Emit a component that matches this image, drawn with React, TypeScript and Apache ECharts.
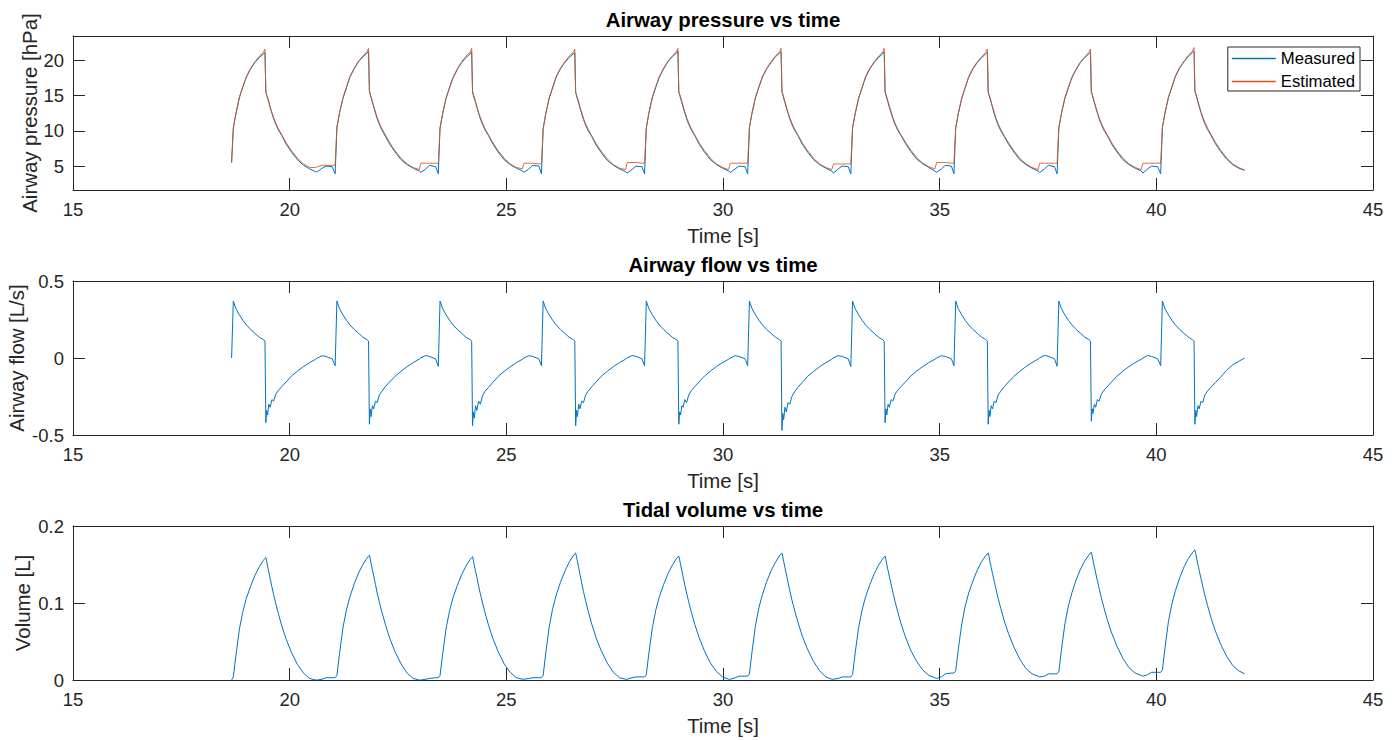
import { useEffect, useRef } from "react";
import * as echarts from "echarts";

// ---- data (one line per breathing cycle) ----
const time = [
  18.66, 18.70, 18.76, 18.84, 18.92, 19.00, 19.10, 19.20, 19.30, 19.39, 19.43, 19.45, 19.47, 19.49, 19.52, 19.55, 19.59, 19.63, 19.68, 19.74, 19.82, 19.92, 20.04, 20.18, 20.32, 20.46, 20.60, 20.64, 20.75, 20.84, 20.98,
  21.05, 21.09, 21.15, 21.23, 21.31, 21.39, 21.49, 21.59, 21.69, 21.78, 21.82, 21.84, 21.86, 21.88, 21.91, 21.94, 21.98, 22.02, 22.07, 22.13, 22.21, 22.31, 22.43, 22.57, 22.71, 22.85, 22.99, 23.03, 23.14, 23.23, 23.37,
  23.43, 23.47, 23.53, 23.61, 23.69, 23.77, 23.87, 23.97, 24.07, 24.16, 24.20, 24.22, 24.24, 24.26, 24.29, 24.32, 24.36, 24.40, 24.45, 24.51, 24.59, 24.69, 24.81, 24.95, 25.09, 25.23, 25.37, 25.41, 25.52, 25.61, 25.75,
  25.81, 25.85, 25.91, 25.99, 26.07, 26.15, 26.25, 26.35, 26.45, 26.54, 26.58, 26.60, 26.62, 26.64, 26.67, 26.70, 26.74, 26.78, 26.83, 26.89, 26.97, 27.07, 27.19, 27.33, 27.47, 27.61, 27.75, 27.79, 27.90, 27.99, 28.13,
  28.19, 28.23, 28.29, 28.37, 28.45, 28.53, 28.63, 28.73, 28.83, 28.92, 28.96, 28.98, 29.00, 29.02, 29.05, 29.08, 29.12, 29.16, 29.21, 29.27, 29.35, 29.45, 29.57, 29.71, 29.85, 29.99, 30.13, 30.17, 30.28, 30.37, 30.51,
  30.57, 30.61, 30.67, 30.75, 30.83, 30.91, 31.01, 31.11, 31.21, 31.30, 31.34, 31.36, 31.38, 31.40, 31.43, 31.46, 31.50, 31.54, 31.59, 31.65, 31.73, 31.83, 31.95, 32.09, 32.23, 32.37, 32.51, 32.55, 32.66, 32.75, 32.89,
  32.95, 32.99, 33.05, 33.13, 33.21, 33.29, 33.39, 33.49, 33.59, 33.68, 33.72, 33.74, 33.76, 33.78, 33.81, 33.84, 33.88, 33.92, 33.97, 34.03, 34.11, 34.21, 34.33, 34.47, 34.61, 34.75, 34.89, 34.93, 35.04, 35.13, 35.27,
  35.33, 35.37, 35.43, 35.51, 35.59, 35.67, 35.77, 35.87, 35.97, 36.06, 36.10, 36.12, 36.14, 36.16, 36.19, 36.22, 36.26, 36.30, 36.35, 36.41, 36.49, 36.59, 36.71, 36.85, 36.99, 37.13, 37.27, 37.31, 37.42, 37.51, 37.65,
  37.71, 37.75, 37.81, 37.89, 37.97, 38.05, 38.15, 38.25, 38.35, 38.44, 38.48, 38.50, 38.52, 38.54, 38.57, 38.60, 38.64, 38.68, 38.73, 38.79, 38.87, 38.97, 39.09, 39.23, 39.37, 39.51, 39.65, 39.69, 39.80, 39.89, 40.03,
  40.10, 40.14, 40.20, 40.28, 40.36, 40.44, 40.54, 40.64, 40.74, 40.83, 40.87, 40.89, 40.91, 40.93, 40.96, 40.99, 41.03, 41.07, 41.12, 41.18, 41.26, 41.36, 41.48, 41.62, 41.76, 41.90, 42.04,
];

const pressureMeasured = [
  5.5, 10.4, 12.4, 14.7, 16.2, 17.6, 18.8, 19.7, 20.4, 20.9, 21.1, 15.5, 15.0, 14.6, 14.0, 13.3, 12.5, 11.7, 10.9, 10.1, 9.3, 8.1, 7.0, 5.9, 5.1, 4.6, 4.2, 4.2, 4.7, 5.0, 4.9,
  3.9, 10.5, 12.5, 14.6, 16.1, 17.6, 18.8, 19.8, 20.5, 21.0, 21.3, 15.6, 15.1, 14.7, 14.0, 13.4, 12.5, 11.7, 10.9, 10.1, 9.2, 8.1, 7.0, 5.9, 5.2, 4.7, 4.3, 4.1, 4.6, 5.1, 4.9,
  3.9, 10.4, 12.4, 14.6, 16.1, 17.5, 18.7, 19.7, 20.4, 20.9, 21.2, 15.5, 15.0, 14.6, 14.0, 13.3, 12.5, 11.7, 10.9, 10.1, 9.3, 8.1, 7.0, 5.9, 5.2, 4.7, 4.3, 4.1, 4.6, 5.1, 5.0,
  3.9, 10.3, 12.4, 14.6, 16.1, 17.6, 18.8, 19.7, 20.4, 20.9, 21.1, 15.4, 15.0, 14.5, 13.9, 13.2, 12.4, 11.6, 10.8, 10.0, 9.2, 8.0, 6.9, 5.8, 5.1, 4.6, 4.2, 4.0, 4.5, 5.0, 4.9,
  3.9, 10.4, 12.5, 14.7, 16.2, 17.6, 18.8, 19.8, 20.5, 21.0, 21.3, 15.5, 15.1, 14.6, 14.0, 13.3, 12.5, 11.7, 10.9, 10.1, 9.3, 8.1, 7.0, 5.9, 5.2, 4.7, 4.3, 4.1, 4.6, 5.0, 4.9,
  3.9, 10.5, 12.5, 14.7, 16.2, 17.6, 18.8, 19.7, 20.5, 21.0, 21.2, 15.5, 15.1, 14.6, 14.0, 13.3, 12.5, 11.7, 10.9, 10.1, 9.3, 8.1, 7.0, 5.9, 5.2, 4.7, 4.3, 4.0, 4.6, 5.0, 4.9,
  3.9, 10.4, 12.4, 14.6, 16.1, 17.6, 18.8, 19.7, 20.4, 20.9, 21.2, 15.5, 15.1, 14.6, 14.0, 13.3, 12.5, 11.7, 10.9, 10.1, 9.3, 8.2, 7.1, 6.0, 5.3, 4.8, 4.3, 4.1, 4.6, 5.1, 5.0,
  3.9, 10.4, 12.4, 14.6, 16.1, 17.6, 18.8, 19.7, 20.4, 20.9, 21.1, 15.5, 15.0, 14.6, 14.0, 13.3, 12.4, 11.6, 10.8, 10.0, 9.2, 8.1, 7.0, 5.9, 5.2, 4.7, 4.3, 4.1, 4.6, 5.1, 4.9,
  3.9, 10.4, 12.4, 14.6, 16.1, 17.5, 18.7, 19.7, 20.4, 20.9, 21.1, 15.5, 15.1, 14.6, 14.0, 13.3, 12.5, 11.7, 10.9, 10.1, 9.3, 8.1, 7.0, 5.9, 5.2, 4.7, 4.3, 4.0, 4.6, 5.0, 4.9,
  3.9, 10.5, 12.5, 14.7, 16.2, 17.7, 18.9, 19.8, 20.6, 21.1, 21.3, 15.6, 15.2, 14.7, 14.1, 13.4, 12.6, 11.8, 11.0, 10.2, 9.4, 8.2, 7.1, 6.0, 5.2, 4.7, 4.4,
];

const pressureEstimated = [
  5.5, 10.4, 12.5, 14.8, 16.3, 17.7, 18.9, 19.8, 20.6, 21.1, 21.6, 15.6, 15.1, 14.8, 14.1, 13.4, 12.6, 11.9, 11.1, 10.3, 9.4, 8.3, 7.2, 6.1, 5.3, 4.8, 4.8, 4.9, 5.1, 5.1, 5.1,
  5.1, 10.5, 12.6, 14.7, 16.2, 17.7, 18.9, 19.9, 20.6, 21.2, 21.7, 15.7, 15.2, 14.8, 14.2, 13.5, 12.7, 11.9, 11.1, 10.3, 9.4, 8.3, 7.2, 6.1, 5.3, 4.8, 4.5, 5.4, 5.4, 5.4, 5.4,
  5.4, 10.4, 12.5, 14.7, 16.2, 17.6, 18.8, 19.8, 20.6, 21.1, 21.7, 15.6, 15.2, 14.8, 14.1, 13.5, 12.6, 11.9, 11.1, 10.3, 9.4, 8.3, 7.2, 6.1, 5.3, 4.8, 4.6, 5.4, 5.4, 5.4, 5.3,
  5.3, 10.3, 12.5, 14.7, 16.2, 17.7, 18.9, 19.8, 20.6, 21.1, 21.6, 15.5, 15.1, 14.7, 14.1, 13.4, 12.6, 11.8, 11.0, 10.2, 9.3, 8.2, 7.1, 6.0, 5.2, 4.7, 4.5, 5.5, 5.5, 5.5, 5.4,
  5.4, 10.4, 12.6, 14.8, 16.3, 17.7, 18.9, 19.9, 20.6, 21.2, 21.7, 15.6, 15.2, 14.8, 14.2, 13.5, 12.7, 11.9, 11.1, 10.3, 9.4, 8.3, 7.2, 6.1, 5.3, 4.8, 4.5, 5.4, 5.4, 5.4, 5.4,
  5.4, 10.5, 12.6, 14.8, 16.3, 17.7, 18.9, 19.8, 20.6, 21.2, 21.7, 15.6, 15.2, 14.8, 14.1, 13.5, 12.6, 11.9, 11.1, 10.3, 9.4, 8.3, 7.2, 6.1, 5.3, 4.8, 4.5, 5.3, 5.3, 5.3, 5.3,
  5.3, 10.4, 12.5, 14.7, 16.2, 17.7, 18.9, 19.8, 20.6, 21.1, 21.7, 15.6, 15.2, 14.8, 14.1, 13.5, 12.7, 11.9, 11.1, 10.3, 9.4, 8.4, 7.3, 6.2, 5.4, 4.9, 4.6, 5.5, 5.5, 5.5, 5.4,
  5.4, 10.4, 12.5, 14.7, 16.2, 17.7, 18.9, 19.8, 20.5, 21.1, 21.6, 15.6, 15.1, 14.8, 14.1, 13.4, 12.6, 11.8, 11.0, 10.2, 9.3, 8.3, 7.2, 6.1, 5.3, 4.8, 4.5, 5.4, 5.4, 5.4, 5.4,
  5.4, 10.4, 12.5, 14.7, 16.2, 17.6, 18.8, 19.8, 20.5, 21.1, 21.6, 15.6, 15.2, 14.8, 14.1, 13.5, 12.6, 11.9, 11.1, 10.3, 9.4, 8.3, 7.2, 6.1, 5.3, 4.8, 4.5, 5.4, 5.4, 5.4, 5.4,
  5.4, 10.5, 12.6, 14.8, 16.3, 17.8, 19.0, 19.9, 20.7, 21.3, 21.8, 15.7, 15.3, 14.9, 14.2, 13.6, 12.7, 12.0, 11.2, 10.4, 9.5, 8.4, 7.3, 6.2, 5.3, 4.8, 4.4,
];

const airwayFlow = [
  0.0, 0.37, 0.32, 0.28, 0.245, 0.215, 0.185, 0.16, 0.135, 0.12, 0.11, -0.42, -0.34, -0.37, -0.30, -0.32, -0.27, -0.28, -0.235, -0.21, -0.185, -0.155, -0.118, -0.085, -0.055, -0.03, -0.008, 0.0, 0.015, 0.01, -0.005,
  -0.05, 0.37, 0.32, 0.28, 0.245, 0.215, 0.185, 0.16, 0.135, 0.12, 0.11, -0.43, -0.33, -0.38, -0.31, -0.33, -0.28, -0.29, -0.24, -0.215, -0.185, -0.155, -0.12, -0.086, -0.056, -0.03, -0.007, 0.002, 0.016, 0.01, -0.006,
  -0.055, 0.37, 0.32, 0.28, 0.245, 0.215, 0.185, 0.16, 0.135, 0.12, 0.11, -0.44, -0.35, -0.39, -0.31, -0.34, -0.28, -0.30, -0.245, -0.215, -0.19, -0.158, -0.12, -0.087, -0.057, -0.031, -0.008, 0.001, 0.015, 0.01, -0.005,
  -0.05, 0.37, 0.32, 0.28, 0.245, 0.215, 0.185, 0.16, 0.135, 0.12, 0.11, -0.44, -0.34, -0.38, -0.30, -0.33, -0.28, -0.29, -0.24, -0.215, -0.187, -0.156, -0.119, -0.086, -0.056, -0.03, -0.008, 0.001, 0.016, 0.011, -0.005,
  -0.05, 0.37, 0.32, 0.28, 0.245, 0.215, 0.185, 0.16, 0.135, 0.12, 0.11, -0.43, -0.35, -0.37, -0.31, -0.32, -0.27, -0.29, -0.24, -0.21, -0.185, -0.155, -0.118, -0.085, -0.055, -0.03, -0.008, 0.0, 0.015, 0.01, -0.005,
  -0.05, 0.37, 0.32, 0.28, 0.245, 0.215, 0.185, 0.16, 0.135, 0.12, 0.11, -0.47, -0.36, -0.40, -0.32, -0.35, -0.29, -0.30, -0.25, -0.22, -0.19, -0.158, -0.12, -0.087, -0.057, -0.031, -0.008, 0.001, 0.016, 0.01, -0.006,
  -0.055, 0.37, 0.32, 0.28, 0.245, 0.215, 0.185, 0.16, 0.135, 0.12, 0.11, -0.42, -0.33, -0.37, -0.30, -0.32, -0.27, -0.28, -0.235, -0.21, -0.185, -0.155, -0.118, -0.085, -0.055, -0.03, -0.008, 0.0, 0.015, 0.01, -0.005,
  -0.05, 0.37, 0.32, 0.28, 0.245, 0.215, 0.185, 0.16, 0.135, 0.12, 0.11, -0.43, -0.34, -0.38, -0.31, -0.33, -0.28, -0.29, -0.24, -0.215, -0.187, -0.156, -0.12, -0.086, -0.056, -0.03, -0.007, 0.002, 0.017, 0.011, -0.005,
  -0.053, 0.37, 0.32, 0.28, 0.245, 0.215, 0.185, 0.16, 0.135, 0.12, 0.11, -0.41, -0.33, -0.36, -0.30, -0.32, -0.27, -0.28, -0.235, -0.21, -0.185, -0.155, -0.118, -0.085, -0.055, -0.03, -0.008, 0.0, 0.016, 0.01, -0.005,
  -0.05, 0.37, 0.32, 0.28, 0.245, 0.215, 0.185, 0.16, 0.135, 0.12, 0.11, -0.43, -0.34, -0.38, -0.31, -0.33, -0.28, -0.29, -0.24, -0.215, -0.19, -0.16, -0.125, -0.08, -0.045, -0.022, 0.0,
];

const tidalVolume = [
  0.000, 0.004, 0.032, 0.066, 0.089, 0.106, 0.122, 0.136, 0.147, 0.155, 0.158, 0.159, 0.154, 0.148, 0.140, 0.132, 0.121, 0.111, 0.099, 0.086, 0.070, 0.053, 0.036, 0.020, 0.009, 0.002, 0.000, 0.000, 0.001, 0.003, 0.003,
  0.003, 0.006, 0.034, 0.068, 0.091, 0.108, 0.125, 0.139, 0.150, 0.158, 0.161, 0.162, 0.157, 0.151, 0.143, 0.135, 0.124, 0.113, 0.101, 0.088, 0.072, 0.054, 0.037, 0.021, 0.009, 0.002, 0.000, 0.000, 0.001, 0.002, 0.003,
  0.003, 0.006, 0.033, 0.067, 0.090, 0.107, 0.123, 0.137, 0.148, 0.156, 0.159, 0.160, 0.155, 0.149, 0.141, 0.133, 0.122, 0.112, 0.100, 0.087, 0.071, 0.054, 0.037, 0.021, 0.010, 0.003, 0.001, 0.001, 0.002, 0.003, 0.003,
  0.003, 0.006, 0.035, 0.069, 0.093, 0.110, 0.127, 0.141, 0.153, 0.161, 0.164, 0.165, 0.160, 0.154, 0.146, 0.137, 0.126, 0.115, 0.103, 0.089, 0.073, 0.055, 0.038, 0.022, 0.010, 0.003, 0.001, 0.001, 0.003, 0.004, 0.004,
  0.004, 0.007, 0.035, 0.068, 0.091, 0.108, 0.124, 0.138, 0.149, 0.157, 0.160, 0.161, 0.156, 0.150, 0.142, 0.134, 0.123, 0.113, 0.101, 0.088, 0.072, 0.055, 0.038, 0.022, 0.011, 0.004, 0.001, 0.001, 0.003, 0.005, 0.005,
  0.005, 0.008, 0.037, 0.071, 0.094, 0.111, 0.128, 0.142, 0.153, 0.161, 0.164, 0.165, 0.160, 0.154, 0.146, 0.138, 0.127, 0.116, 0.104, 0.091, 0.075, 0.057, 0.040, 0.024, 0.012, 0.004, 0.001, 0.001, 0.002, 0.004, 0.004,
  0.004, 0.007, 0.035, 0.068, 0.091, 0.108, 0.124, 0.138, 0.149, 0.157, 0.160, 0.161, 0.156, 0.150, 0.142, 0.134, 0.124, 0.114, 0.102, 0.089, 0.073, 0.056, 0.039, 0.024, 0.013, 0.006, 0.003, 0.002, 0.004, 0.008, 0.009,
  0.009, 0.012, 0.040, 0.073, 0.096, 0.113, 0.129, 0.143, 0.154, 0.161, 0.164, 0.165, 0.160, 0.154, 0.146, 0.138, 0.128, 0.118, 0.106, 0.093, 0.077, 0.060, 0.043, 0.027, 0.015, 0.008, 0.005, 0.004, 0.005, 0.008, 0.008,
  0.008, 0.011, 0.039, 0.073, 0.096, 0.113, 0.130, 0.144, 0.155, 0.162, 0.165, 0.166, 0.161, 0.155, 0.147, 0.139, 0.129, 0.119, 0.107, 0.094, 0.078, 0.061, 0.044, 0.028, 0.016, 0.009, 0.006, 0.005, 0.007, 0.010, 0.010,
  0.010, 0.013, 0.042, 0.076, 0.099, 0.116, 0.133, 0.147, 0.158, 0.165, 0.168, 0.169, 0.164, 0.158, 0.150, 0.142, 0.132, 0.122, 0.110, 0.097, 0.081, 0.064, 0.047, 0.031, 0.019, 0.012, 0.008,
];

const titles = ["Airway pressure vs time", "Airway flow vs time", "Tidal volume vs time"];
const yNames = ["Airway pressure [hPa]", "Airway flow [L/s]", "Volume [L]"];
const xName = "Time [s]";
const legendNames = ["Measured", "Estimated"];

const FONT = "Liberation Sans, Arial, Helvetica, sans-serif";
const AX = "#262626";
const BLUE = "#0072BD";
const ORANGE = "#D95319";
const legendColors = [BLUE, ORANGE];

const GRID_LEFT = 73;
const GRID_RIGHT = 27;
const GRID_H = 154;
const GRID_TOPS = [36, 281, 526];

const pairs = (ys: number[]) => time.slice(0, ys.length).map((t, i) => [t, ys[i]]);

export default function App() {
  const ref = useRef<HTMLDivElement>(null);

  useEffect(() => {
    if (!ref.current) return;
    const chart = echarts.init(ref.current, undefined, { renderer: "svg" });

    const tickStyle = { show: true, inside: true, length: 12, lineStyle: { color: AX, width: 1 } };
    const lineStyle = { show: true, onZero: false, lineStyle: { color: AX, width: 1 } };

    const xAxes: any[] = [];
    const yAxes: any[] = [];
    const yCfg = [
      { min: 1.6, max: 23.45, minInterval: 5, maxInterval: 5, gap: 33 },
      { min: -0.5, max: 0.5, interval: 0.5, gap: 46 },
      { min: 0, max: 0.2, interval: 0.1, gap: 40 },
    ];

    GRID_TOPS.forEach((_, g) => {
      xAxes.push({
        type: "value", gridIndex: g, position: "bottom", min: 15, max: 45, interval: 5,
        axisLine: lineStyle, axisTick: tickStyle, splitLine: { show: false },
        axisLabel: { color: AX, fontSize: 18.5, fontFamily: FONT, margin: 10 },
        name: xName, nameLocation: "middle", nameGap: 36, nameMoveOverlap: false,
        nameTextStyle: { color: AX, fontSize: 20.4, fontFamily: FONT },
      });
      xAxes.push({
        type: "value", gridIndex: g, position: "top", min: 15, max: 45, interval: 5,
        axisLine: lineStyle, axisTick: tickStyle, splitLine: { show: false },
        axisLabel: { show: false },
      });
      const c = yCfg[g];
      const base: any = { type: "value", gridIndex: g, min: c.min, max: c.max, splitLine: { show: false } };
      if (c.interval !== undefined) base.interval = c.interval;
      if (c.minInterval !== undefined) { base.minInterval = c.minInterval; base.maxInterval = c.maxInterval; }
      yAxes.push({
        ...base, position: "left",
        axisLine: lineStyle, axisTick: tickStyle,
        axisLabel: {
          color: AX, fontSize: 18.5, fontFamily: FONT, margin: 9,
          showMinLabel: true, showMaxLabel: true,
          formatter: (v: number) => {
            if (g === 0) return Math.abs(v % 5) < 1e-9 ? String(v) : "";
            return String(Math.round(v * 10) / 10);
          },
        },
        name: yNames[g], nameLocation: "middle", nameGap: c.gap, nameMoveOverlap: false,
        nameTextStyle: { color: AX, fontSize: 20.4, fontFamily: FONT },
      });
      yAxes.push({
        ...base, position: "right",
        axisLine: lineStyle, axisTick: tickStyle, axisLabel: { show: false },
      });
    });

    const grids = GRID_TOPS.map((top) => ({
      left: GRID_LEFT, right: GRID_RIGHT, top, height: GRID_H,
      containLabel: false, outerBoundsMode: "none",
    }));

    const option: any = {
      animation: false,
      backgroundColor: "#ffffff",
      grid: grids,
      xAxis: xAxes,
      yAxis: yAxes,
      legend: {
        data: legendNames.map((n, i) => ({
          name: n, icon: "rect",
          itemStyle: { color: legendColors[i], borderWidth: 0, opacity: 1 },
        })),
        orient: "vertical",
        right: 40,
        top: 47,
        itemWidth: 44,
        itemHeight: 1.6,
        itemGap: 6,
        padding: [3, 5, 1, 4],
        borderColor: AX,
        borderWidth: 1,
        borderRadius: 0,
        backgroundColor: "#ffffff",
        selectedMode: false,
        textStyle: { color: "#000", fontSize: 16.7, fontFamily: FONT },
      },
      graphic: titles.map((t, i) => ({
        type: "text",
        x: (GRID_LEFT + 1400 - GRID_RIGHT) / 2,
        y: GRID_TOPS[i] - 16,
        style: {
          text: t, align: "center", verticalAlign: "middle",
          fontSize: 20.4, fontWeight: "bold", fontFamily: FONT, fill: "#000",
        },
      })),
      series: [
        {
          type: "line", name: "Measured", xAxisIndex: 0, yAxisIndex: 0, data: pairs(pressureMeasured),
          symbol: "none", lineStyle: { width: 1, color: BLUE }, itemStyle: { color: BLUE },
        },
        {
          type: "line", name: "Estimated", xAxisIndex: 0, yAxisIndex: 0, data: pairs(pressureEstimated),
          symbol: "none", lineStyle: { width: 1, color: ORANGE, opacity: 0.85 }, itemStyle: { color: ORANGE },
        },
        {
          type: "line", name: "flow", xAxisIndex: 2, yAxisIndex: 2, data: pairs(airwayFlow),
          symbol: "none", lineStyle: { width: 1, color: BLUE }, itemStyle: { color: BLUE },
        },
        {
          type: "line", name: "volume", xAxisIndex: 4, yAxisIndex: 4, data: pairs(tidalVolume),
          symbol: "none", lineStyle: { width: 1, color: BLUE }, itemStyle: { color: BLUE },
        },
      ],
    };

    chart.setOption(option);
    return () => chart.dispose();
  }, []);

  return (
    <div
      ref={ref}
      style={{ position: "absolute", left: 0, top: 0, width: 1400, height: 740, background: "#fff" }}
    />
  );
}
